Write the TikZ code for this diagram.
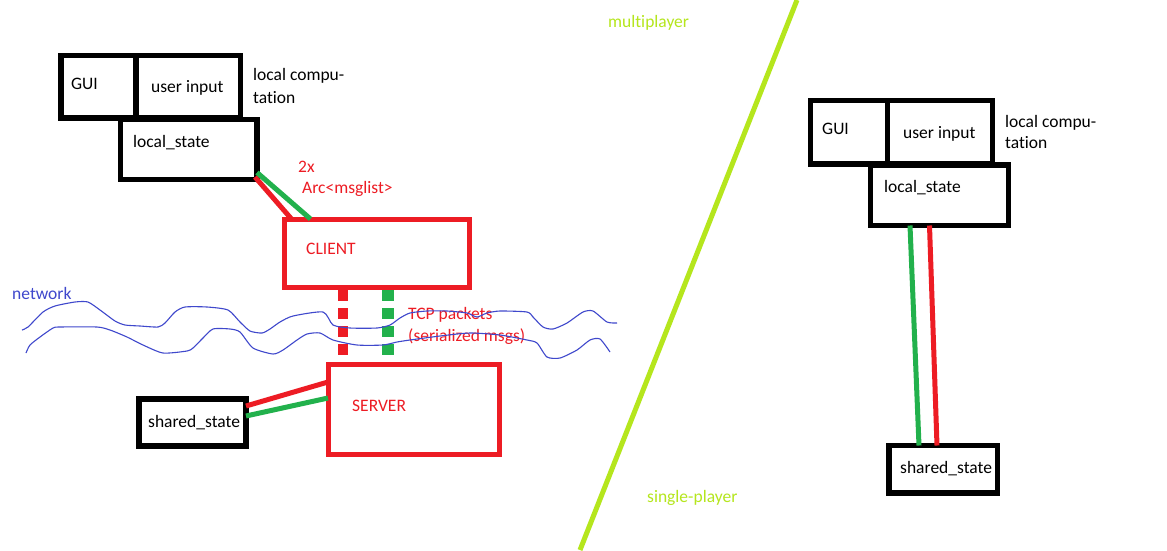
\documentclass[tikz,border=0pt]{standalone}
\usepackage{fontspec}
\setmainfont{Carlito}[Ligatures=NoCommon]
\definecolor{pred}{HTML}{ED1C24}
\definecolor{pgreen}{HTML}{22B14C}
\definecolor{pblue}{HTML}{3F48CC}
\definecolor{plime}{HTML}{B5E61D}
\tikzset{
  blackbox/.style={draw=black, line width=5.5pt, inner sep=0pt, outer sep=0pt, anchor=north west},
  redbox/.style={draw=pred, line width=5pt, inner sep=0pt, outer sep=0pt, anchor=north west},
  txt/.style={anchor=base west, inner sep=0pt, font=\fontsize{17.5}{20}\selectfont},
  redline/.style={draw=pred, line width=5pt},
  greenline/.style={draw=pgreen, line width=5pt},
  reddash/.style={draw=pred, line width=10pt, dash pattern=on 11pt off 7pt},
  greendash/.style={draw=pgreen, line width=12pt, dash pattern=on 11pt off 7pt},
  wave/.style={draw=pblue, line width=1.1pt},
}
\begin{document}
\begin{tikzpicture}[x=1pt,y=-1pt]
\useasboundingbox (0,0) rectangle (1167,550);
\fill[white] (0,0) rectangle (1167,550);

% ---------- left (multiplayer) ----------
\node[blackbox, minimum width=75pt, minimum height=62.5pt] (guiL) at (61,55.5) {};
\node[blackbox, minimum width=104.5pt, minimum height=62.5pt] (uinL) at (136,55.5) {};
\node[blackbox, minimum width=136.5pt, minimum height=60pt] (lsL) at (120.5,119.5) {};
\node[txt] (guiLt) at (71,89) {GUI};
\node[txt] (uinLt) at (151,92) {user input};
\node[txt] (lsLt) at (133,147) {local\_state};
\node[txt] (lcL1) at (253,80) {local compu-};
\node[txt] (lcL2) at (253,103) {tation};

\node[redbox, minimum width=185pt, minimum height=68.5pt] (client) at (284.5,219) {};
\node[txt, text=pred] (clientt) at (306,254) {CLIENT};
\node[txt, text=pred] (arc1) at (298,172) {2x};
\node[txt, text=pred] (arc2) at (302,193) {Arc<msglist>};

\node[redbox, minimum width=171.5pt, minimum height=90pt] (server) at (328,364.5) {};
\node[txt, text=pred] (servert) at (352,411) {SERVER};

\node[blackbox, minimum width=107pt, minimum height=47pt] (ssL) at (139,399) {};
\node[txt] (ssLt) at (148,427) {shared\_state};

\draw[redline] ([shift={(-2,-2.5)}]lsL.south east) -- ([xshift=7pt]client.north west);
\draw[greenline] ([yshift=7pt]lsL.south east) -- ([xshift=26pt]client.north west);
\draw[redline] ([yshift=16.5pt]ssL.east) -- ([yshift=-17.5pt]server.north west);
\draw[greenline] ([yshift=6.5pt]ssL.east) -- ([yshift=-33.5pt]server.north west);

\draw[reddash] ([shift={(-34,2.5)}]client.south) -- ([shift={(-34,-4)}]client.south |- server.north);
\draw[greendash] ([shift={(11,2.5)}]client.south) -- ([shift={(11,-8)}]client.south |- server.north);

\node[txt, text=pred] (tcp1) at (408,319) {TCP packets};
\node[txt, text=pred] (tcp2) at (408,341) {(serialized msgs)};

% network waves
\node[txt, text=pblue] (net) at (12,299) {network};
\draw[wave] plot[smooth, tension=0.4] coordinates {(22,330) (28,327) (43,312) (55,306) (75,302) (88,302) (100,310) (115,321) (125,325) (140,326) (158,327) (165,323) (175,312) (185,307) (207,307) (228,310) (240,322) (250,331) (262,333) (270,329) (280,322) (293,316) (323,312) (333,325) (350,328) (377,328) (390,325) (400,318) (410,313) (427,311) (447,311) (467,313) (477,317) (487,313) (500,311) (527,312) (533,317) (543,327) (553,329) (567,323) (583,312) (593,311) (607,322) (617,323)};
\draw[wave] plot[smooth, tension=0.4] coordinates {(26,353) (30,345) (40,337) (53,328) (60,327) (97,327) (110,330) (127,337) (143,345) (163,353) (187,351) (193,348) (203,338) (213,329) (230,329) (240,332) (253,348) (273,354) (283,350) (297,340) (307,334) (320,333) (333,340) (357,345) (383,345) (397,342) (410,340) (440,336) (470,333) (500,335) (527,340) (537,343) (547,357) (560,358) (577,350) (590,340) (600,339) (610,352)};

% ---------- divider ----------
\coordinate (divtop) at (797,0);
\coordinate (divbot) at (580,550);
\draw[plime, line width=5pt] (divtop) -- (divbot);
\node[txt, text=plime] (mp) at (608,27) {multiplayer};
\node[txt, text=plime] (sp) at (647,502) {single-player};

% ---------- right (single-player) ----------
\node[blackbox, minimum width=77pt, minimum height=63.5pt] (guiR) at (810.5,100.5) {};
\node[blackbox, minimum width=105pt, minimum height=63.5pt] (uinR) at (887.5,100.5) {};
\node[blackbox, minimum width=138pt, minimum height=60.5pt] (lsR) at (870.5,165) {};
\node[txt] (guiRt) at (822,134) {GUI};
\node[txt] (uinRt) at (903,138) {user input};
\node[txt] (lsRt) at (884,192) {local\_state};
\node[txt] (lcR1) at (1005,127) {local compu-};
\node[txt] (lcR2) at (1005,148) {tation};

\node[blackbox, minimum width=108.5pt, minimum height=47.5pt] (ssR) at (889,445.5) {};
\node[txt] (ssRt) at (900,473) {shared\_state};

\draw[greenline] ([xshift=39.5pt]lsR.south west) -- ([xshift=30pt]ssR.north west);
\draw[redline] ([xshift=59pt]lsR.south west) -- ([xshift=48pt]ssR.north west);
\end{tikzpicture}
\end{document}
